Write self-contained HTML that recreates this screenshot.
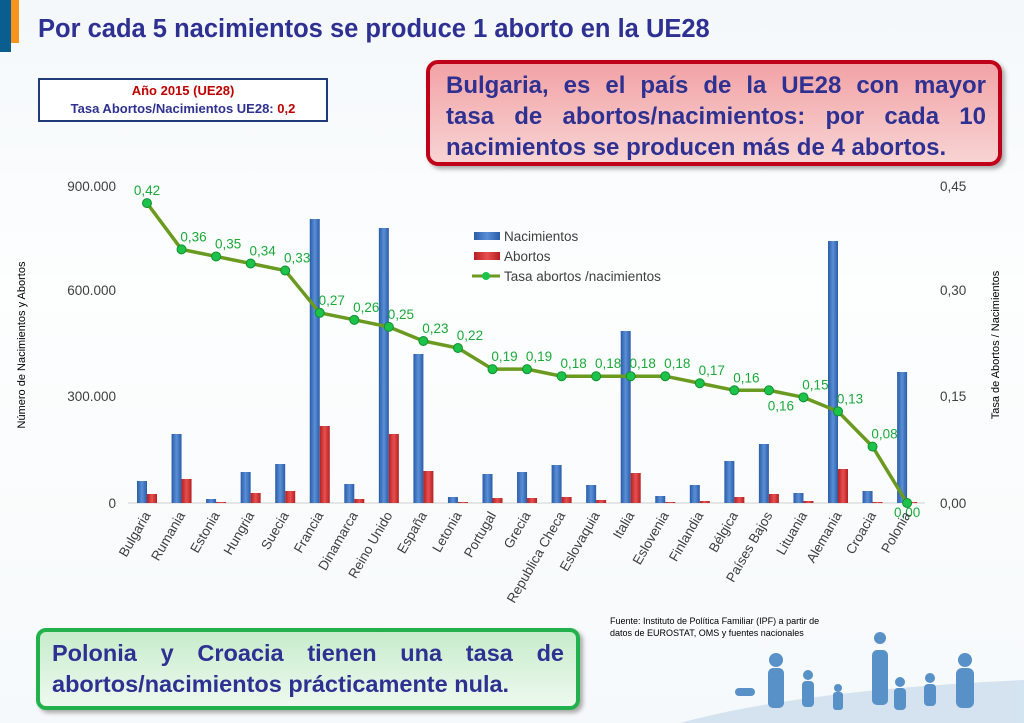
<!DOCTYPE html>
<html><head><meta charset="utf-8"><style>
body{margin:0;width:1024px;height:723px;overflow:hidden;background:linear-gradient(#f4f8fb,#fdfefe 40%,#f6f9fb);font-family:"Liberation Sans",sans-serif;position:relative}
.t{position:absolute;left:38px;top:15px;font-size:25.5px;font-weight:bold;color:#2e3192}
.bx1{position:absolute;left:38px;top:78px;width:290px;height:44px;border:2px solid #1f3c78;background:#fff;text-align:center;font-size:13px;font-weight:bold;color:#2e3192;line-height:18px;padding-top:2px;box-sizing:border-box}
.bx2{position:absolute;left:426px;top:60px;width:576px;height:106px;border:4px solid #c00018;border-radius:12px;background:linear-gradient(#f2a3a6,#f8d3d3);box-sizing:border-box;font-size:24px;font-weight:bold;color:#2e3192;text-align:justify;text-align-last:justify;padding:6px 12px 6px 16px;line-height:31px;box-shadow:3px 3px 4px #aaa}
.bx2 div:last-child{text-align-last:left}
.bx3{position:absolute;left:36px;top:628px;width:544px;height:82px;border:4px solid #22b14c;border-radius:10px;background:linear-gradient(#c7eccb,#eef9ef);box-sizing:border-box;font-size:23.5px;font-weight:bold;color:#2e3192;padding:6px 12px;line-height:31px;text-align:justify;box-shadow:3px 3px 4px #aaa}
</style></head><body>
<div style="position:absolute;left:0;top:0;width:11px;height:52px;background:#0a5d8f"></div>
<div style="position:absolute;left:11px;top:0;width:8px;height:43px;background:#f7941d"></div>
<div class="t">Por cada 5 nacimientos se produce 1 aborto en la UE28</div>
<div class="bx1"><span style="color:#c00000">Año 2015 (UE28)</span><br>Tasa Abortos/Nacimientos UE28: <span style="color:#c00000">0,2</span></div>
<div class="bx2"><div>Bulgaria, es el país de la UE28 con mayor</div><div>tasa de abortos/nacimientos: por cada 10</div><div>nacimientos se producen más de 4 abortos.</div></div>
<svg width="1024" height="723" style="position:absolute;left:0;top:0" font-family="Liberation Sans, sans-serif">
<defs>
<linearGradient id="gb" x1="0" x2="1"><stop offset="0" stop-color="#2a5ca8"/><stop offset=".5" stop-color="#5a8fd6"/><stop offset="1" stop-color="#2a5ca8"/></linearGradient>
<linearGradient id="gr" x1="0" x2="1"><stop offset="0" stop-color="#b42020"/><stop offset=".5" stop-color="#e85050"/><stop offset="1" stop-color="#b42020"/></linearGradient>
</defs>
<line x1="128" y1="503" x2="925" y2="503" stroke="#d0d0d0"/>
<g font-size="13.5" fill="#404040" text-anchor="end">
<text x="116" y="191">900.000</text><text x="116" y="295">600.000</text><text x="116" y="401">300.000</text><text x="116" y="508">0</text></g>
<g font-size="13.5" fill="#404040"><text x="940" y="191">0,45</text><text x="940" y="295">0,30</text><text x="940" y="401">0,15</text><text x="940" y="508">0,00</text></g>
<text transform="translate(25,345) rotate(-90)" font-size="11" text-anchor="middle" fill="#000">Número de Nacimientos y Abortos</text>
<text transform="translate(999,345) rotate(-90)" font-size="11" text-anchor="middle" fill="#000">Tasa de Abortos / Nacimientos</text>
<g id="bars"></g>
<g id="line"></g>
<g id="labs" font-size="13.5" fill="#404040" text-anchor="end"></g>
<g font-size="13.5" fill="#404040">
<rect x="474" y="232" width="26" height="8" fill="url(#gb)"/><text x="504" y="241">Nacimientos</text>
<rect x="474" y="252" width="26" height="8" fill="url(#gr)"/><text x="504" y="261">Abortos</text>
<line x1="472" y1="276" x2="500" y2="276" stroke="#6a9a1f" stroke-width="3"/><circle cx="486" cy="276" r="4" fill="#1cc24a"/><text x="504" y="281">Tasa abortos /nacimientos</text>
</g>
<text x="610" y="624" font-size="9" fill="#000">Fuente: Instituto de Política Familiar (IPF) a partir de</text>
<text x="610" y="636" font-size="9" fill="#000">datos de EUROSTAT, OMS y fuentes nacionales</text>
<g fill="#3d7fc0" opacity=".85">
<path d="M680 723 Q800 690 1024 680 L1024 723Z" fill="#cfe0ee"/>
<circle cx="776" cy="660" r="7"/><rect x="768" y="668" width="16" height="40" rx="5"/>
<circle cx="808" cy="675" r="5"/><rect x="802" y="681" width="12" height="26" rx="4"/>
<circle cx="838" cy="688" r="4"/><rect x="833" y="692" width="10" height="18" rx="3"/>
<circle cx="880" cy="638" r="6"/><rect x="872" y="650" width="16" height="55" rx="5"/>
<circle cx="900" cy="682" r="5"/><rect x="894" y="688" width="12" height="22" rx="4"/>
<circle cx="930" cy="678" r="5"/><rect x="924" y="684" width="12" height="22" rx="4"/>
<circle cx="965" cy="660" r="7"/><rect x="956" y="668" width="18" height="40" rx="6"/>
<rect x="735" y="688" width="20" height="8" rx="4"/>
</g>
</svg>
<div class="bx3">Polonia y Croacia tienen una tasa de abortos/nacimientos prácticamente nula.</div>
<script>
var n=["Bulgaria","Rumania","Estonia","Hungria","Suecia","Francia","Dinamarca","Reino Unido","España","Letonia","Portugal","Grecia","Republica Checa","Eslovaquia","Italia","Eslovenia","Finlandia","Bélgica","Países Bajos","Lituania","Alemania","Croacia","Polonia"];
var b=[481,434,499,472,464,219,484,228,354,497,474,472,465,485,331,496,485,461,444,493,241,491,372];
var a=[494,479,502,493,491,426,499,434,471,502,498,498,497,500,473,502,501,497,494,501,469,502,502];
var r=[0.42,0.36,0.35,0.34,0.33,0.27,0.26,0.25,0.23,0.22,0.19,0.19,0.18,0.18,0.18,0.18,0.17,0.16,0.16,0.15,0.13,0.08,0.00];
var s="",L="",T="",pts=[];
for(var i=0;i<23;i++){var c=147+i*34.55;
s+='<rect x="'+(c-10)+'" y="'+b[i]+'" width="10" height="'+(503-b[i])+'" fill="url(#gb)"/>';
s+='<rect x="'+c+'" y="'+a[i]+'" width="10" height="'+(503-a[i])+'" fill="url(#gr)"/>';
var y=503-r[i]/0.45*317+(i==0?-4:0);pts.push(c+","+y);
L+='<circle cx="'+c+'" cy="'+y+'" r="4.5" fill="#1cc24a" stroke="#109030"/>';
var lx=c+(i==0?0:12),ly=y-8;if(i==18)ly=y+20;if(i==22){lx=c;ly=y+14;}
L+='<text x="'+lx+'" y="'+ly+'" font-size="13.5" fill="#1aaa3a" text-anchor="middle">'+r[i].toFixed(2).replace(".",",")+'</text>';
T+='<text transform="translate('+(c+4)+',515) rotate(-60)">'+n[i]+'</text>';}
document.getElementById("bars").innerHTML=s;
document.getElementById("line").innerHTML='<polyline points="'+pts.join(" ")+'" fill="none" stroke="#6a9a1f" stroke-width="3.5"/>'+L;
document.getElementById("labs").innerHTML=T;
</script>
</body></html>
